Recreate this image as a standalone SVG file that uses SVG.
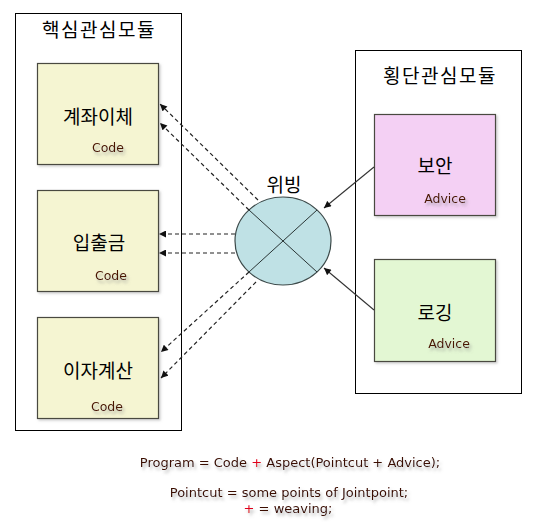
<svg xmlns="http://www.w3.org/2000/svg" width="537" height="529" viewBox="0 0 537 529">
<style>
.outer{fill:#fff;stroke:#000;stroke-width:1}
.box{stroke:#4a4a40;stroke-width:1.2}
.core{fill:#f5f5d2}
.sec{fill:#f4d0f4}
.log{fill:#e3f7d3}
.kr{font-family:"Noto Sans CJK KR","DejaVu Sans",sans-serif;fill:#000;text-anchor:middle}
.title{font-size:19px;letter-spacing:1.5px}
.lbl{font-size:19px}
.en{font-family:"DejaVu Sans","Verdana",sans-serif;font-size:12.5px;fill:#4a1500;text-anchor:middle}
.formula{font-family:"DejaVu Sans",sans-serif;font-size:13px;fill:#3a0a00;text-anchor:middle}
.plus{fill:#e0001a}
.dash{stroke:#222;stroke-width:1.2;stroke-dasharray:4 3;fill:none}
.solid{stroke:#333;stroke-width:1.1;fill:none}
</style>
<defs>
<marker id="ah" viewBox="0 0 10 10" refX="10" refY="5" markerWidth="8" markerHeight="7" markerUnits="userSpaceOnUse" orient="auto">
<path d="M0,0 L10,5 L0,10 z" fill="#111"/>
</marker>
<filter id="ts" x="-20%" y="-50%" width="140%" height="220%">
<feDropShadow dx="2" dy="3" stdDeviation="1.5" flood-color="#888" flood-opacity="0.6"/>
</filter>
<filter id="bs" x="-5%" y="-5%" width="115%" height="115%">
<feDropShadow dx="1.5" dy="1.5" stdDeviation="1" flood-color="#999" flood-opacity="0.5"/>
</filter>
</defs>
<rect width="537" height="529" fill="#fff"/>

<g id="core-module">
<rect class="outer" x="15.5" y="13.5" width="166" height="417"/>
<text class="kr title" x="99" y="37">핵심관심모듈</text>
</g>
<g id="cross-module">
<rect class="outer" x="355.5" y="50.5" width="166" height="343"/>
<text class="kr title" x="440" y="83">횡단관심모듈</text>
</g>

<g id="transfer">
<rect class="box core" x="37.5" y="63.5" width="121" height="101" filter="url(#bs)"/>
<text class="kr lbl" x="98" y="124">계좌이체</text>
<text class="en" x="108" y="152" filter="url(#ts)">Code</text>
</g>
<g id="deposit">
<rect class="box core" x="37.5" y="190.5" width="121" height="101" filter="url(#bs)"/>
<text class="kr lbl" x="99" y="250">입출금</text>
<text class="en" x="111" y="280" filter="url(#ts)">Code</text>
</g>
<g id="interest">
<rect class="box core" x="37.5" y="317.5" width="121" height="101" filter="url(#bs)"/>
<text class="kr lbl" x="98" y="378">이자계산</text>
<text class="en" x="107" y="411" filter="url(#ts)">Code</text>
</g>

<g id="security">
<rect class="box sec" x="374.5" y="114.5" width="121" height="101" filter="url(#bs)"/>
<text class="kr lbl" x="435" y="173">보안</text>
<text class="en" x="445" y="203" filter="url(#ts)">Advice</text>
</g>
<g id="logging">
<rect class="box log" x="374.5" y="259.5" width="121" height="102" filter="url(#bs)"/>
<text class="kr lbl" x="435" y="320">로깅</text>
<text class="en" x="449" y="348" filter="url(#ts)">Advice</text>
</g>

<g id="weaving">
<ellipse cx="283" cy="241" rx="48" ry="44" fill="#bfe1e5" stroke="#3c4a4a" stroke-width="1.2"/>
<line x1="249" y1="210" x2="317" y2="272" stroke="#2a3535" stroke-width="1"/>
<line x1="317" y1="210" x2="249" y2="272" stroke="#2a3535" stroke-width="1"/>
<text class="kr title" x="284" y="192" style="letter-spacing:0">위빙</text>
</g>

<g id="connectors">
<line class="dash" x1="258" y1="200" x2="160" y2="104" marker-end="url(#ah)"/>
<line class="dash" x1="249" y1="210" x2="160" y2="123" marker-end="url(#ah)"/>
<line class="dash" x1="235" y1="234" x2="159" y2="234" marker-end="url(#ah)"/>
<line class="dash" x1="235" y1="253" x2="159" y2="253" marker-end="url(#ah)"/>
<line class="dash" x1="249" y1="272" x2="161" y2="352" marker-end="url(#ah)"/>
<line class="dash" x1="256" y1="282" x2="161" y2="378" marker-end="url(#ah)"/>
<line class="solid" x1="374" y1="167" x2="324" y2="208" marker-end="url(#ah)"/>
<line class="solid" x1="374" y1="310" x2="324" y2="268" marker-end="url(#ah)"/>
</g>

<g id="formula" filter="url(#ts)">
<text class="formula" x="290" y="467">Program = Code <tspan class="plus">+</tspan> Aspect(Pointcut + Advice);</text>
<text class="formula" x="289" y="497">Pointcut = some points of Jointpoint;</text>
<text class="formula" x="288" y="513"><tspan class="plus">+</tspan> = weaving;</text>
</g>
</svg>
